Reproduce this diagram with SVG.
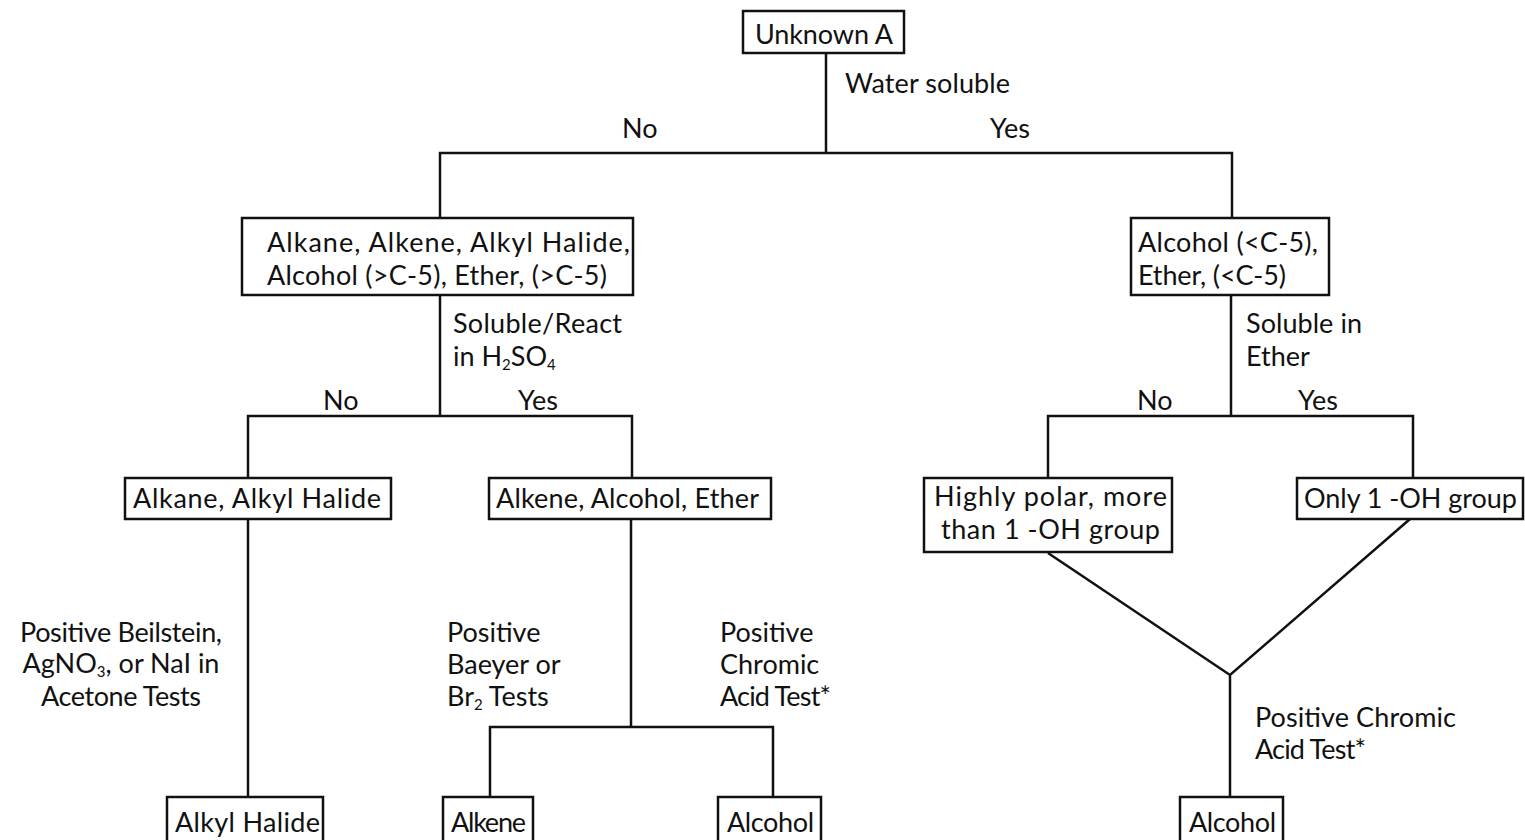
<svg xmlns="http://www.w3.org/2000/svg" width="1525" height="840" viewBox="0 0 1525 840">
<style>
text{font-family:Lato,"Liberation Sans",sans-serif;font-size:27px;fill:#111;}
.box{fill:#fff;stroke:#111;stroke-width:2.5;}
.ln{fill:none;stroke:#111;stroke-width:2.5;}
.sub{font-size:15px;}
</style>
<rect width="1525" height="840" fill="#fff"/>
<g id="connectors">
<path class="ln" d="M826,53V153M440,218V153H1232V218"/>
<path class="ln" d="M440,295V416M248,478V416H632V478"/>
<path class="ln" d="M1231,295V416M1048,478V416H1413V478"/>
<path class="ln" d="M248,519V797"/>
<path class="ln" d="M631,519V727M490,797V727H773V797"/>
<path class="ln" d="M1048,553L1230,675L1410,519M1230,675V797"/>
</g>
<g id="labels">
<text x="845" y="93" textLength="165">Water soluble</text>
<text x="622" y="138">No</text>
<text x="990" y="138">Yes</text>
<text x="453" y="333" textLength="169">Soluble/React</text>
<text x="453" y="366">in H<tspan class="sub" dy="4">2</tspan><tspan dy="-4">SO</tspan><tspan class="sub" dy="4">4</tspan></text>
<text x="323" y="410">No</text>
<text x="518" y="410">Yes</text>
<text x="1246" y="333" textLength="116">Soluble in</text>
<text x="1246" y="366">Ether</text>
<text x="1137" y="410">No</text>
<text x="1298" y="410">Yes</text>
<text x="121" y="642" text-anchor="middle" textLength="202">Positive Beilstein,</text>
<text x="121" y="673" text-anchor="middle">AgNO<tspan class="sub" dy="4">3</tspan><tspan dy="-4">, or NaI in</tspan></text>
<text x="121" y="706" text-anchor="middle" textLength="160">Acetone Tests</text>
<text x="447" y="642">Positive</text>
<text x="447" y="674">Baeyer or</text>
<text x="447" y="706">Br<tspan class="sub" dy="4">2</tspan><tspan dy="-4"> Tests</tspan></text>
<text x="720" y="642">Positive</text>
<text x="720" y="674">Chromic</text>
<text x="720" y="706" textLength="111">Acid Test*</text>
<text x="1255" y="727" textLength="201">Positive Chromic</text>
<text x="1255" y="759" textLength="111">Acid Test*</text>
</g>
<g id="unknownA"><rect class="box" x="743" y="11" width="161" height="42"/><text x="755" y="44" textLength="138">Unknown A</text></g>
<g id="insoluble"><rect class="box" x="242" y="218" width="391" height="77"/><text x="267" y="252" textLength="363">Alkane, Alkene, Alkyl Halide,</text><text x="267" y="285" textLength="340">Alcohol (&gt;C-5), Ether, (&gt;C-5)</text></g>
<g id="soluble"><rect class="box" x="1131" y="218" width="198" height="77"/><text x="1138" y="252" textLength="180">Alcohol (&lt;C-5),</text><text x="1138" y="285" textLength="148">Ether, (&lt;C-5)</text></g>
<g id="alkaneHalide"><rect class="box" x="125" y="478" width="266" height="41"/><text x="133" y="508" textLength="248">Alkane, Alkyl Halide</text></g>
<g id="alkeneAlcoholEther"><rect class="box" x="489" y="478" width="282" height="41"/><text x="496" y="508" textLength="263">Alkene, Alcohol, Ether</text></g>
<g id="highlyPolar"><rect class="box" x="924" y="478" width="248" height="74"/><text x="934" y="506" textLength="233">Highly polar, more</text><text x="941" y="539" textLength="219">than 1 -OH group</text></g>
<g id="onlyOne"><rect class="box" x="1297" y="478" width="226" height="41"/><text x="1304" y="508" textLength="213">Only 1 -OH group</text></g>
<g id="alkylHalide"><rect class="box" x="167" y="797" width="156" height="45"/><text x="175" y="832" textLength="145">Alkyl Halide</text></g>
<g id="alkene"><rect class="box" x="443" y="797" width="90" height="45"/><text x="451" y="832" textLength="75">Alkene</text></g>
<g id="alcohol1"><rect class="box" x="718" y="797" width="103" height="45"/><text x="727" y="832" textLength="87">Alcohol</text></g>
<g id="alcohol2"><rect class="box" x="1180" y="797" width="103" height="45"/><text x="1189" y="832" textLength="87">Alcohol</text></g>
</svg>
